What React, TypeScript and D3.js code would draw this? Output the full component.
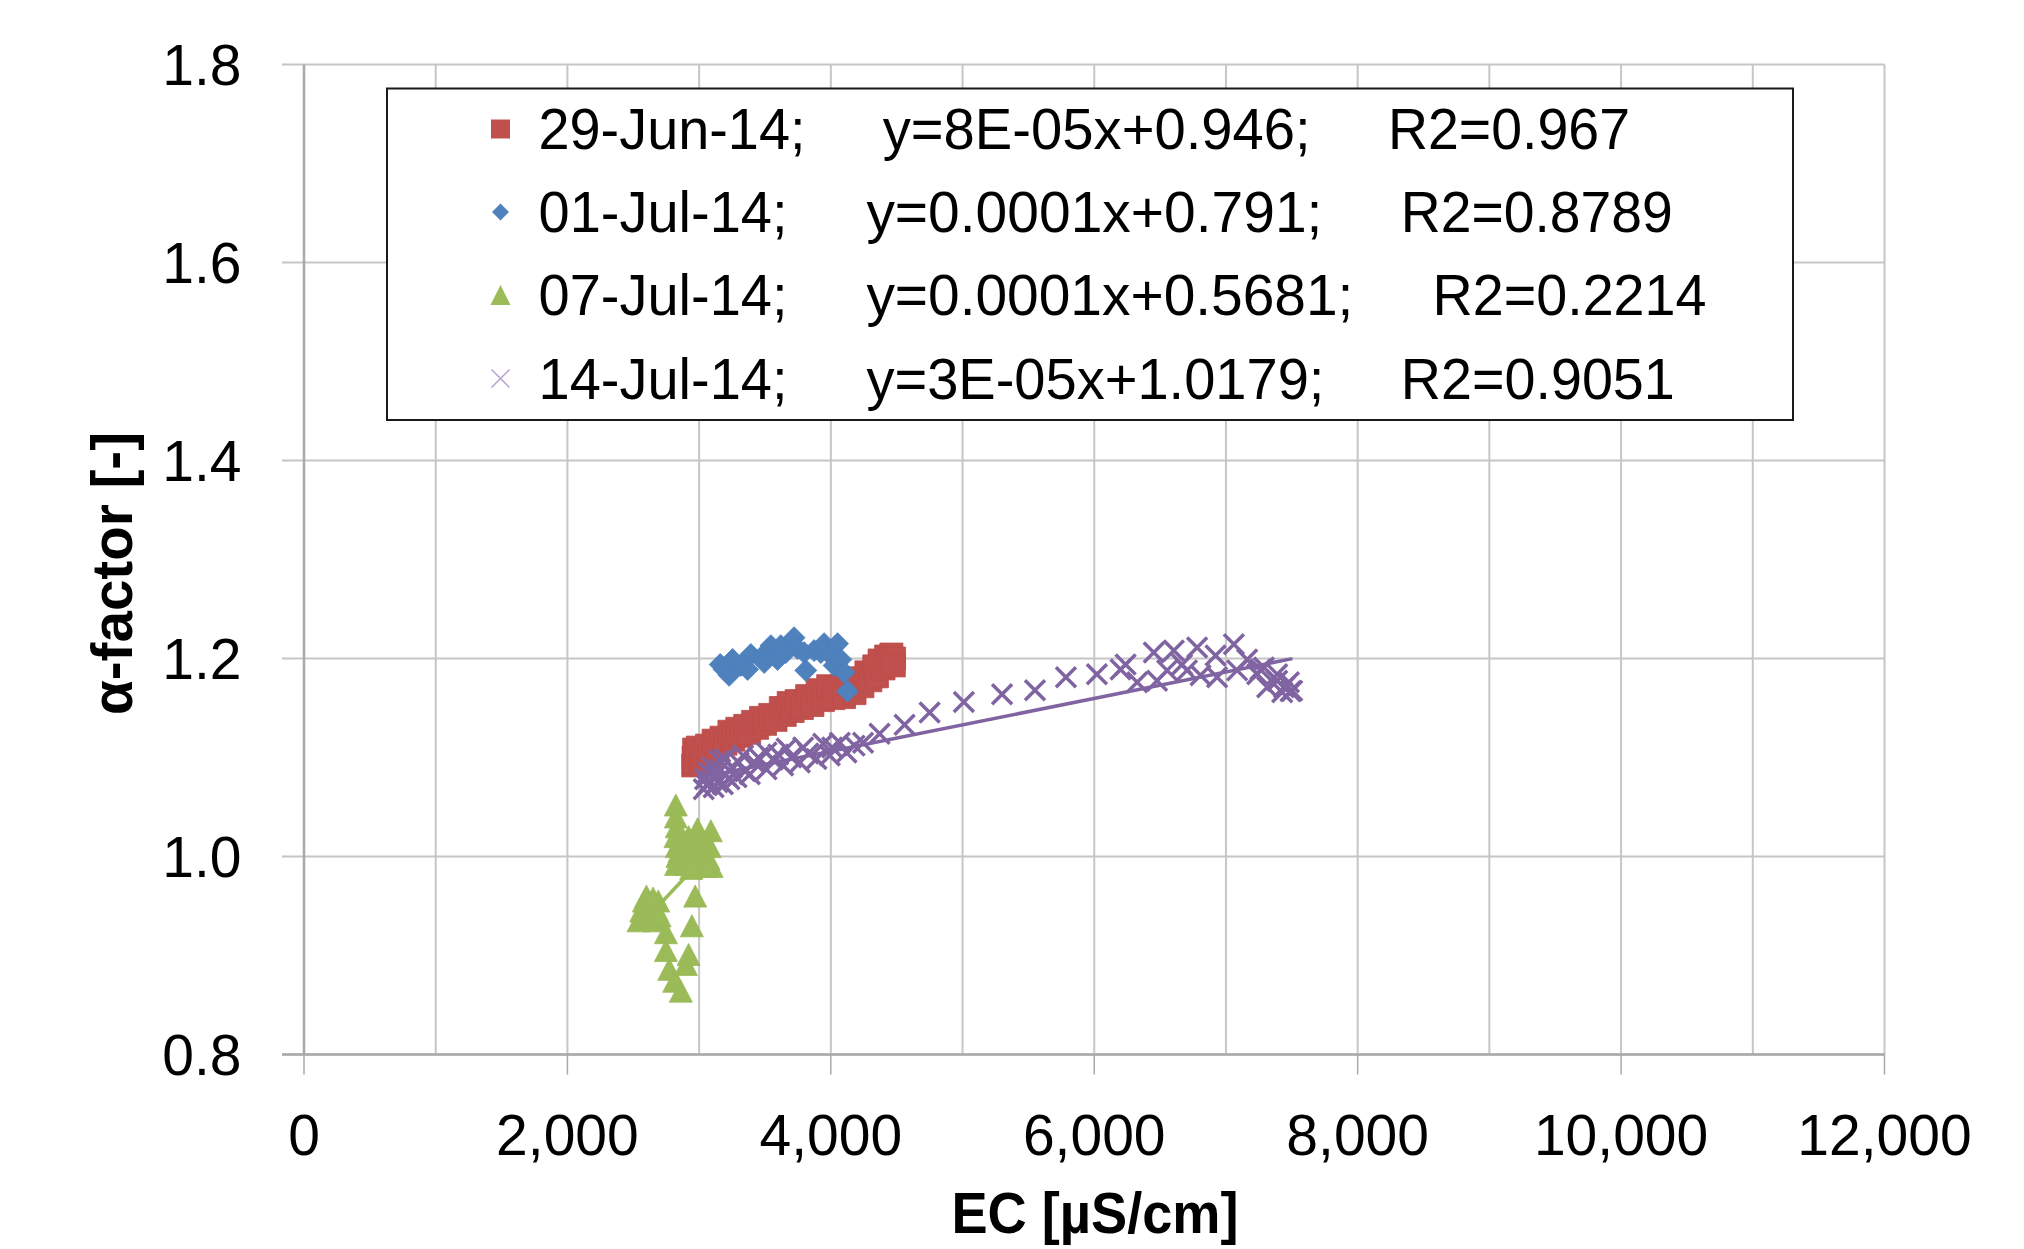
import React, { useEffect } from 'react';
import * as d3 from 'd3';

// ---------- data ----------
const xTickValues = [0, 2000, 4000, 6000, 8000, 10000, 12000];
const xGridValues = [0, 1000, 2000, 3000, 4000, 5000, 6000, 7000, 8000, 9000, 10000, 11000, 12000];
const yTickValues = [0.8, 1.0, 1.2, 1.4, 1.6, 1.8];

const seriesNames = ['29-Jun-14;', '01-Jul-14;', '07-Jul-14;', '14-Jul-14;'];
const seriesEquations = ['y=8E-05x+0.946;', 'y=0.0001x+0.791;', 'y=0.0001x+0.5681;', 'y=3E-05x+1.0179;'];
const seriesR2 = ['R2=0.967', 'R2=0.8789', 'R2=0.2214', 'R2=0.9051'];
const seriesColors = ['#C0504D', '#4F81BD', '#9BBB59', '#8064A2'];

const jun29: [number, number][] = [
  [2955, 1.092], [2958, 1.100], [2962, 1.108], [2970, 1.095], [2980, 1.103], [2990, 1.110],
  [3010, 1.098], [3030, 1.106], [3060, 1.112], [3080, 1.102], [3110, 1.117], [3140, 1.108],
  [3170, 1.120], [3200, 1.114], [3230, 1.126], [3260, 1.118], [3290, 1.129], [3320, 1.122],
  [3350, 1.132], [3380, 1.125], [3410, 1.136], [3440, 1.130], [3470, 1.140], [3500, 1.134],
  [3540, 1.143], [3580, 1.138], [3620, 1.150], [3650, 1.143], [3680, 1.155], [3710, 1.147],
  [3740, 1.157], [3780, 1.150], [3820, 1.162], [3860, 1.153], [3900, 1.168], [3940, 1.158],
  [3980, 1.172], [4020, 1.160], [4060, 1.170], [4100, 1.161], [4140, 1.175], [4180, 1.165],
  [4210, 1.180], [4240, 1.172], [4270, 1.186], [4300, 1.178], [4330, 1.192], [4350, 1.182],
  [4370, 1.198], [4400, 1.190], [4420, 1.202], [4440, 1.196], [4460, 1.204], [4480, 1.200],
  [4478, 1.193],
];

const jul01: [number, number][] = [
  [3160, 1.194], [3190, 1.189], [3228, 1.183], [3254, 1.199], [3317, 1.193], [3368, 1.189],
  [3393, 1.204], [3469, 1.201], [3494, 1.196], [3545, 1.213], [3595, 1.199], [3620, 1.213],
  [3658, 1.206], [3721, 1.221], [3747, 1.210], [3797, 1.206], [3810, 1.188], [3873, 1.208],
  [3924, 1.206], [3949, 1.215], [4000, 1.203], [4025, 1.193], [4051, 1.215], [4076, 1.199],
  [4101, 1.186], [4127, 1.167],
];

const jul07: [number, number][] = [
  [2823, 1.052], [2823, 1.040], [2830, 1.030], [2820, 1.020], [2830, 1.010], [2835, 1.000],
  [2825, 0.992], [2850, 1.005], [2870, 0.995], [2900, 1.010], [2920, 1.020], [2950, 1.015],
  [2988, 1.028], [2980, 1.010], [2960, 1.000], [2990, 0.995], [3010, 1.005], [3040, 1.012],
  [3089, 1.026], [3080, 1.010], [3070, 0.998], [3095, 0.990], [3050, 0.990], [2900, 0.992],
  [2940, 0.988],
  [2540, 0.935], [2560, 0.945], [2580, 0.955], [2600, 0.960], [2620, 0.950], [2640, 0.940],
  [2660, 0.935], [2680, 0.945], [2690, 0.955], [2700, 0.940], [2650, 0.958],
  [2748, 0.923], [2748, 0.905], [2773, 0.886], [2811, 0.874], [2861, 0.864],
  [2970, 0.960], [2945, 0.930], [2920, 0.901], [2900, 0.891],
];

const jul14: [number, number][] = [
  [3035, 1.068], [3045, 1.078], [3060, 1.072], [3070, 1.085], [3085, 1.076], [3100, 1.090],
  [3110, 1.070], [3125, 1.082], [3140, 1.075], [3155, 1.097], [3160, 1.088], [3180, 1.073],
  [3195, 1.0985], [3200, 1.082], [3230, 1.078], [3250, 1.090], [3284, 1.080], [3300, 1.095],
  [3334, 1.102], [3350, 1.086], [3385, 1.083], [3420, 1.095], [3450, 1.100], [3512, 1.105],
  [3512, 1.088], [3560, 1.098], [3600, 1.103], [3638, 1.092], [3664, 1.109], [3700, 1.100],
  [3765, 1.095], [3790, 1.110], [3830, 1.104], [3891, 1.0985], [3942, 1.114], [3992, 1.102],
  [4010, 1.110], [4068, 1.115], [4119, 1.105], [4180, 1.112], [4245, 1.115],
  [4370, 1.124], [4560, 1.133], [4750, 1.1455], [5010, 1.156], [5300, 1.164], [5550, 1.168],
  [5785, 1.181], [6020, 1.184], [6200, 1.189],
  [6238, 1.194], [6326, 1.176], [6452, 1.206], [6477, 1.1775], [6553, 1.188], [6604, 1.208],
  [6667, 1.194], [6704, 1.188], [6781, 1.211], [6807, 1.183], [6921, 1.203], [6933, 1.181],
  [7060, 1.2145], [7085, 1.188], [7161, 1.199], [7237, 1.184], [7262, 1.189], [7288, 1.191],
  [7313, 1.171], [7389, 1.1775], [7389, 1.184], [7427, 1.166], [7440, 1.171], [7478, 1.176],
  [7490, 1.167], [7503, 1.1674],
];

// visible trendlines (endpoints)
const trendJul07: [number, number][] = [[2540, 0.9288], [3095, 1.0076]];
const trendJul14: [number, number][] = [[3035, 1.0805], [7505, 1.1999]];

// ---------- layout ----------
const W = 2024;
const H = 1249;
const FONT = "'Liberation Sans', Arial, sans-serif";

const legendDateWidths = [267, 249, 249, 249];
const legendEqX = [882.7, 866.4, 866.4, 866.4];
const legendEqWidths = [428, 456, 487, 458];
const legendR2X = [1388, 1400.8, 1432.5, 1400.8];
const legendR2Widths = [242, 272, 274, 274];

function squarePath(cx: number, cy: number, s: number) {
  const h = s / 2;
  return `M${cx - h},${cy - h}H${cx + h}V${cy + h}H${cx - h}Z`;
}
function diamondPath(cx: number, cy: number, s: number) {
  const h = s / 2;
  return `M${cx},${cy - h}L${cx + h},${cy}L${cx},${cy + h}L${cx - h},${cy}Z`;
}
function trianglePath(cx: number, cy: number, w: number, h: number) {
  return `M${cx},${cy - h / 2}L${cx + w / 2},${cy + h / 2}L${cx - w / 2},${cy + h / 2}Z`;
}
function crossPath(cx: number, cy: number, s: number) {
  const h = s / 2;
  return `M${cx - h},${cy - h}L${cx + h},${cy + h}M${cx - h},${cy + h}L${cx + h},${cy - h}`;
}

export default function App() {
  useEffect(() => {
    document.body.style.margin = '0';
  }, []);

  const x = d3.scaleLinear().domain([0, 12000]).range([304, 1884.5]);
  const y = d3.scaleLinear().domain([0.8, 1.8]).range([1054.5, 64.5]);
  const fmt = d3.format(',');
  const line = d3.line<[number, number]>().x((d) => x(d[0])).y((d) => y(d[1]));

  const [x0, x1] = x.range();
  const [yb, yt] = y.range();

  const legendRowCenters = [129, 212, 295, 378.5];

  return (
    <svg width={W} height={H} style={{ display: 'block', background: '#fff' }}>
      <rect x={0} y={0} width={W} height={H} fill="#fff" />
      {/* gridlines */}
      {xGridValues.map((v) => (
        <line key={'gx' + v} x1={x(v)} x2={x(v)} y1={yt} y2={yb} stroke="#c6c6c6" strokeWidth={2} />
      ))}
      {yTickValues.map((v) => (
        <line key={'gy' + v} x1={x0 - 22} x2={x1} y1={y(v)} y2={y(v)} stroke="#c6c6c6" strokeWidth={2} />
      ))}
      {/* axes */}
      <line x1={x0} x2={x0} y1={yt} y2={yb} stroke="#a9a9a9" strokeWidth={2.5} />
      <line x1={x0 - 22} x2={x1} y1={yb} y2={yb} stroke="#a9a9a9" strokeWidth={2.5} />
      {xTickValues.map((v) => (
        <line key={'tx' + v} x1={x(v)} x2={x(v)} y1={yb} y2={yb + 20} stroke="#a9a9a9" strokeWidth={1.5} />
      ))}

      {/* trendlines */}
      <path d={line(trendJul07) || ''} stroke={seriesColors[2]} strokeWidth={3.5} fill="none" />
      <path d={line(trendJul14) || ''} stroke={seriesColors[3]} strokeWidth={3.5} fill="none" />

      {/* series */}
      <g>
        {jun29.map((d, i) => (
          <path key={'r' + i} d={squarePath(x(d[0]), y(d[1]), 23)} fill={seriesColors[0]} stroke="#be4b48" strokeWidth={0.8} />
        ))}
      </g>
      <g>
        {jul01.map((d, i) => (
          <path key={'b' + i} d={diamondPath(x(d[0]), y(d[1]), 22)} fill={seriesColors[1]} stroke="#4a7ebb" strokeWidth={0.8} />
        ))}
      </g>
      <g>
        {jul07.map((d, i) => (
          <path key={'g' + i} d={trianglePath(x(d[0]), y(d[1]), 23, 22)} fill={seriesColors[2]} stroke="#98b954" strokeWidth={0.8} />
        ))}
      </g>
      <g>
        {jul14.map((d, i) => (
          <path key={'p' + i} d={crossPath(x(d[0]), y(d[1]), 20)} fill="none" stroke={seriesColors[3]} strokeWidth={3.5} />
        ))}
      </g>

      {/* y tick labels */}
      {yTickValues.map((v) => (
        <text key={'yl' + v} x={241.5} y={y(v)} dy="0.36em" textAnchor="end" fontFamily={FONT} fontSize={57} fill="#000">
          {v.toFixed(1)}
        </text>
      ))}
      {/* x tick labels */}
      {xTickValues.map((v) => (
        <text key={'xl' + v} x={x(v)} y={1155} textAnchor="middle" fontFamily={FONT} fontSize={57} fill="#000">
          {fmt(v)}
        </text>
      ))}

      {/* axis titles */}
      <text x={1095} y={1233} textAnchor="middle" fontFamily={FONT} fontSize={57} fontWeight="bold" textLength={287} lengthAdjust="spacingAndGlyphs">
        EC [µS/cm]
      </text>
      <text transform="translate(132,573.5) rotate(-90)" textAnchor="middle" fontFamily={FONT} fontSize={57} fontWeight="bold" textLength={283} lengthAdjust="spacingAndGlyphs">
        α-factor [-]
      </text>

      {/* legend */}
      <rect x={387} y={88.5} width={1406} height={331.5} fill="#fff" stroke="#1a1a1a" strokeWidth={2} />
      {seriesNames.map((name, i) => {
        const cy = legendRowCenters[i];
        const mx = 500.5;
        let marker;
        if (i === 0) marker = <path d={squarePath(mx, cy, 19)} fill={seriesColors[0]} />;
        else if (i === 1) marker = <path d={diamondPath(mx, cy, 17)} fill={seriesColors[1]} />;
        else if (i === 2) marker = <path d={trianglePath(mx, cy, 20, 20)} fill={seriesColors[2]} />;
        else marker = <path d={crossPath(mx, cy, 18)} fill="none" stroke="#b3a2cc" strokeWidth={1.5} />;
        const base = cy + 20;
        return (
          <g key={'lg' + i}>
            {marker}
            <text x={538.5} y={base} fontFamily={FONT} fontSize={57} textLength={legendDateWidths[i]} lengthAdjust="spacingAndGlyphs">
              {name}
            </text>
            <text x={legendEqX[i]} y={base} fontFamily={FONT} fontSize={57} textLength={legendEqWidths[i]} lengthAdjust="spacingAndGlyphs">
              {seriesEquations[i]}
            </text>
            <text x={legendR2X[i]} y={base} fontFamily={FONT} fontSize={57} textLength={legendR2Widths[i]} lengthAdjust="spacingAndGlyphs">
              {seriesR2[i]}
            </text>
          </g>
        );
      })}
    </svg>
  );
}
